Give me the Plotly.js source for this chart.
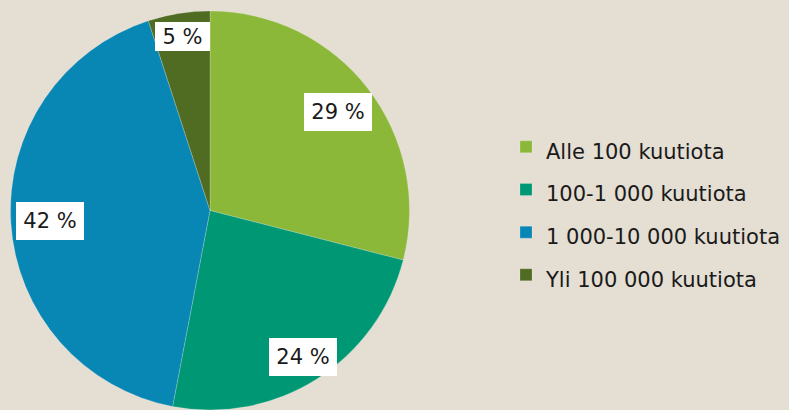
<!DOCTYPE html>
<html><head><meta charset="utf-8">
<script src="https://cdn.plot.ly/plotly-3.0.1.min.js"></script>
<style>html,body{margin:0;padding:0;background:#e4ded3}</style>
</head><body><div id="chart" style="width:789px;height:410px"></div>
<script>
// ---- data ----
const categories = ["Alle 100 kuutiota", "100-1 000 kuutiota", "1 000-10 000 kuutiota", "Yli 100 000 kuutiota"];
const shares = [29, 24, 42, 5];
const sliceColors = ["#8cb83a", "#009874", "#0987b4", "#506b22"];

// ---- layout config ----
const W = 789, H = 410;
const cx = 210, cy = 211, R = 200;
const labelRadius = [0.81, 0.865, 0.80, 0.885];
const boxW = [68, 68, 68, 55];
const boxH = [38, 38, 38, 29];

const total = shares.reduce((a, b) => a + b, 0);
let cum = 0;
const annotations = shares.map((v, i) => {
  const mid = (cum + v / 2) / total * 2 * Math.PI;
  cum += v;
  const px = cx + R * labelRadius[i] * Math.sin(mid);
  const py = cy - R * labelRadius[i] * Math.cos(mid);
  return {
    xref: 'paper', yref: 'paper', x: px / W, y: 1 - py / H,
    xanchor: 'center', yanchor: 'middle', showarrow: false,
    text: v + ' %', bgcolor: '#ffffff', borderpad: 0, borderwidth: 0,
    width: boxW[i], height: boxH[i],
    font: {family: 'DejaVu Sans', size: 21, color: '#1a1a1a'}
  };
});

const trace = {
  type: 'pie',
  labels: categories.map(c => '<span style="font-size:21px">' + c + '</span>'),
  values: shares,
  sort: false,
  direction: 'clockwise',
  rotation: 0,
  textinfo: 'none',
  hoverinfo: 'none',
  marker: {colors: sliceColors, line: {color: 'rgba(255,255,255,0.25)', width: 0.8}},
  domain: {x: [(cx - R) / W, (cx + R) / W], y: [1 - (cy + R) / H, 1 - (cy - R) / H]}
};

const layout = {
  width: W, height: H,
  margin: {l: 0, r: 0, t: 0, b: 0},
  paper_bgcolor: '#e4ded3',
  plot_bgcolor: '#e4ded3',
  showlegend: true,
  legend: {
    x: 506 / W, xanchor: 'left', y: 1 - 211 / H, yanchor: 'middle',
    font: {family: 'DejaVu Sans', size: 30.5, color: '#1a1a1a'},
    bgcolor: 'rgba(0,0,0,0)', borderwidth: 0
  },
  annotations: annotations
};

Plotly.newPlot('chart', [trace], layout, {displayModeBar: false, staticPlot: true});
</script></body></html>
